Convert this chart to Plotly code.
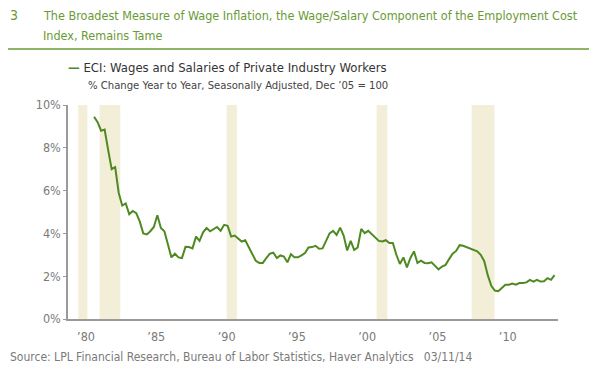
import plotly.graph_objects as go

# ---------------- data ----------------
start_year = 1981  # first quarter: 1981 Q1
eci_yoy = [
    9.45, 9.20, 8.80, 8.85, 7.90, 7.00, 7.10, 5.90, 5.30, 5.40,
    4.90, 5.05, 4.95, 4.55, 4.00, 3.95, 4.10, 4.30, 4.85, 4.25,
    4.10, 3.50, 2.88, 3.05, 2.88, 2.85, 3.37, 3.36, 3.30, 3.85,
    3.65, 4.05, 4.25, 4.10, 4.20, 4.30, 4.12, 4.40, 4.35, 3.85,
    3.90, 3.75, 3.62, 3.68, 3.35, 3.00, 2.72, 2.62, 2.62, 2.85,
    3.05, 3.10, 2.85, 2.97, 2.92, 2.65, 3.03, 2.88, 2.88, 2.97,
    3.08, 3.34, 3.36, 3.42, 3.28, 3.30, 3.65, 4.00, 4.12, 3.93,
    4.27, 3.90, 3.20, 3.65, 3.23, 3.34, 4.21, 4.01, 4.12, 3.97,
    3.80, 3.65, 3.62, 3.68, 3.55, 3.55, 3.00, 2.57, 2.88, 2.41,
    2.85, 3.16, 2.62, 2.73, 2.62, 2.61, 2.65, 2.48, 2.32, 2.45,
    2.53, 2.80, 3.05, 3.18, 3.45, 3.42, 3.35, 3.28, 3.20, 3.16,
    3.00, 2.70, 2.05, 1.55, 1.33, 1.30, 1.45, 1.60, 1.60, 1.66,
    1.60, 1.68, 1.68, 1.71, 1.83, 1.75, 1.83, 1.75, 1.76, 1.91,
    1.83, 2.05,
]
recession_start = [1980.00, 1981.52, 1990.55, 2001.22, 2007.98]
recession_end = [1980.65, 1982.99, 1991.28, 2001.98, 2009.60]
tick_years = [1980, 1985, 1990, 1995, 2000, 2005, 2010]
tick_labels = ["\u201980", "\u201985", "\u201990", "\u201995", "\u201900", "\u201905", "\u201910"]
y_ticks = [0, 2, 4, 6, 8, 10]
y_tick_labels = ["0%", "2%", "4%", "6%", "8%", "10%"]

# decimal-year position of each quarter (mid-quarter)
x_vals = [start_year + (i + 0.5) / 4 for i in range(len(eci_yoy))]

FONT = "DejaVu Sans Condensed, Liberation Sans Narrow, sans-serif"
GREEN_LINE = "#4e8a21"
GREEN_TITLE = "#6a9a35"
GRAY = "#7a7a7a"

# the page body has an 8px margin on every side; size the figure so the page
# fits the 600x376 window exactly (no scrolling)
OFF = 8
W, H = 600 - 2 * OFF, 376 - 2 * OFF
ML, MT = 68 - OFF, 105 - OFF
MR = W - (558 - OFF)
MB = H - (319 - OFF)
PW = W - ML - MR
PH = H - MT - MB


def px2x(px):
    return (px - OFF - ML) / PW


def py2y(py):
    return (H - MB - (py - OFF)) / PH


fig = go.Figure()
fig.add_trace(go.Scatter(
    x=x_vals, y=eci_yoy, mode="lines",
    line=dict(color=GREEN_LINE, width=2),
    name="ECI: Wages and Salaries of Private Industry Workers",
    showlegend=False, hoverinfo="x+y",
))

shapes = []
for s, e in zip(recession_start, recession_end):
    shapes.append(dict(type="rect", xref="x", yref="y", x0=s, x1=e, y0=0, y1=10,
                       fillcolor="#f2eed8", line=dict(width=0), layer="below"))
# title rule
shapes.append(dict(type="line", xref="paper", yref="paper",
                   x0=px2x(8), x1=px2x(589), y0=py2y(49), y1=py2y(49),
                   line=dict(color=GREEN_TITLE, width=1.5)))


def note(text, x, y, size, color, **kw):
    d = dict(text=text, x=px2x(x), y=py2y(y), xref="paper", yref="paper",
             xanchor="left", yanchor="middle", showarrow=False,
             font=dict(family=FONT, size=size, color=color))
    d.update(kw)
    return d


annotations = [
    note("3", 8, 15, 14, GREEN_TITLE),
    note("The Broadest Measure of Wage Inflation, the Wage/Salary Component of the Employment Cost",
         41, 15, 12.5, GREEN_TITLE),
    note("Index, Remains Tame", 41, 35, 12.5, GREEN_TITLE),
    note("<span style='color:%s'><b>\u2014</b></span> ECI: Wages and Salaries of Private Industry Workers" % GREEN_LINE,
         66, 67, 13, "#333333"),
    note("% Change Year to Year, Seasonally Adjusted, Dec \u201905 = 100", 86, 85, 11.2, "#444444"),
    note("Source: LPL Financial Research, Bureau of Labor Statistics, Haver Analytics   03/11/14",
         8, 357, 12, GRAY),
]

fig.update_layout(
    width=W, height=H,
    margin=dict(l=ML, r=MR, t=MT, b=MB),
    paper_bgcolor="white", plot_bgcolor="white",
    font=dict(family=FONT, size=12.5, color=GRAY),
    shapes=shapes, annotations=annotations,
    showlegend=False,
    xaxis=dict(range=[1979.27, 2014.12], tickmode="array",
               tickvals=[t + 0.55 for t in tick_years], ticktext=tick_labels,
               showgrid=False, zeroline=False, showline=True, linecolor="#9a9a9a",
               linewidth=1.5, ticks="outside", ticklen=5, tickcolor="rgba(0,0,0,0)",
               tickfont=dict(family=FONT, size=12.5, color=GRAY)),
    yaxis=dict(range=[0, 10], tickmode="array", tickvals=y_ticks, ticktext=y_tick_labels,
               showgrid=False, zeroline=False, showline=True, linecolor="#9a9a9a",
               linewidth=1.5, ticks="outside", ticklen=3, tickcolor="#9a9a9a",
               tickfont=dict(family=FONT, size=12.5, color=GRAY)),
)

fig.write_html("out.html")
